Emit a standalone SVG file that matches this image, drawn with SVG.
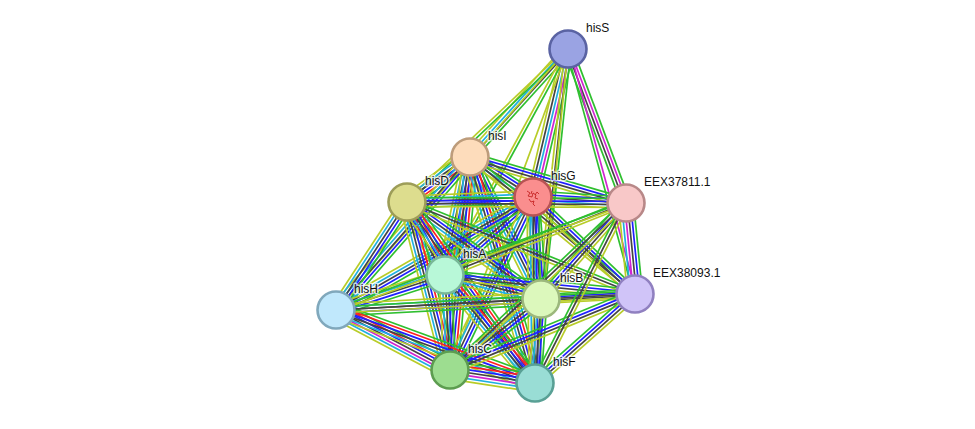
<svg xmlns="http://www.w3.org/2000/svg" width="975" height="429" viewBox="0 0 975 429">
<style>
line{stroke-width:1.7;fill:none}
.g{stroke:#2fbf2f}.r{stroke:#ff2020}.b{stroke:#2020ff}.k{stroke:#444}.m{stroke:#d024d0}.c{stroke:#20b0e0}.y{stroke:#b8cc28}
.node circle{stroke-width:2.6}
text{font-family:"Liberation Sans",Arial,sans-serif;font-size:12px;fill:#111;stroke:#fff;stroke-width:3px;stroke-opacity:0.7;paint-order:stroke;stroke-linejoin:round}
</style>
<defs>
<g id="b7"><line x1="0" x2="1" y1="-9" y2="-9" class="g"/><line x1="0" x2="1" y1="-6" y2="-6" class="r"/><line x1="0" x2="1" y1="-3" y2="-3" class="b"/><line x1="0" x2="1" y1="0" y2="0" class="k"/><line x1="0" x2="1" y1="3" y2="3" class="m"/><line x1="0" x2="1" y1="6" y2="6" class="c"/><line x1="0" x2="1" y1="9" y2="9" class="y"/></g>
<g id="b6"><line x1="0" x2="1" y1="-7.5" y2="-7.5" class="g"/><line x1="0" x2="1" y1="-4.5" y2="-4.5" class="r"/><line x1="0" x2="1" y1="-1.5" y2="-1.5" class="b"/><line x1="0" x2="1" y1="1.5" y2="1.5" class="k"/><line x1="0" x2="1" y1="4.5" y2="4.5" class="c"/><line x1="0" x2="1" y1="7.5" y2="7.5" class="y"/></g>
<g id="b5"><line x1="0" x2="1" y1="-6" y2="-6" class="g"/><line x1="0" x2="1" y1="-3" y2="-3" class="b"/><line x1="0" x2="1" y1="0" y2="0" class="k"/><line x1="0" x2="1" y1="3" y2="3" class="c"/><line x1="0" x2="1" y1="6" y2="6" class="y"/></g>
<g id="b4"><line x1="0" x2="1" y1="-4.5" y2="-4.5" class="g"/><line x1="0" x2="1" y1="-1.5" y2="-1.5" class="b"/><line x1="0" x2="1" y1="1.5" y2="1.5" class="k"/><line x1="0" x2="1" y1="4.5" y2="4.5" class="y"/></g>
<g id="s4"><line x1="0" x2="1" y1="-4.5" y2="-4.5" class="g"/><line x1="0" x2="1" y1="-1.5" y2="-1.5" class="k"/><line x1="0" x2="1" y1="1.5" y2="1.5" class="c"/><line x1="0" x2="1" y1="4.5" y2="4.5" class="y"/></g>
<g id="sg"><line x1="0" x2="1" y1="-6" y2="-6" class="g"/><line x1="0" x2="1" y1="-3" y2="-3" class="m"/><line x1="0" x2="1" y1="0" y2="0" class="c"/><line x1="0" x2="1" y1="3" y2="3" class="k"/><line x1="0" x2="1" y1="6" y2="6" class="y"/></g>
<g id="ee"><line x1="0" x2="1" y1="-7.5" y2="-7.5" class="g"/><line x1="0" x2="1" y1="-4.5" y2="-4.5" class="b"/><line x1="0" x2="1" y1="-1.5" y2="-1.5" class="k"/><line x1="0" x2="1" y1="1.5" y2="1.5" class="m"/><line x1="0" x2="1" y1="4.5" y2="4.5" class="c"/><line x1="0" x2="1" y1="7.5" y2="7.5" class="y"/></g>
<g id="e3"><line x1="0" x2="1" y1="-3" y2="-3" class="g"/><line x1="0" x2="1" y1="0" y2="0" class="k"/><line x1="0" x2="1" y1="3" y2="3" class="y"/></g>
<g id="se"><line x1="0" x2="1" y1="-4.5" y2="-4.5" class="g"/><line x1="0" x2="1" y1="-1.5" y2="-1.5" class="m"/><line x1="0" x2="1" y1="1.5" y2="1.5" class="k"/><line x1="0" x2="1" y1="4.5" y2="4.5" class="g"/></g>
<g id="se2"><line x1="0" x2="1" y1="-1.5" y2="-1.5" class="m"/><line x1="0" x2="1" y1="1.5" y2="1.5" class="g"/></g>
<g id="s2"><line x1="0" x2="1" y1="-1.5" y2="-1.5" class="g"/><line x1="0" x2="1" y1="1.5" y2="1.5" class="y"/></g>
<g id="s1"><line x1="0" x2="1" y1="0" y2="0" class="y"/></g>
</defs>
<rect width="975" height="429" fill="#fff"/>
<g id="connectors">
<use href="#s4" transform="matrix(-98 108 -0.741 -0.672 568 49)"/>
<use href="#sg" transform="matrix(-35 148 -0.973 -0.230 568 49)"/>
<use href="#se" transform="matrix(58 154 -0.936 0.352 568 49)"/>
<use href="#s2" transform="matrix(-161 153 -0.689 -0.725 568 49)"/>
<use href="#s2" transform="matrix(-123 226 -0.878 -0.478 568 49)"/>
<use href="#e3" transform="matrix(-27 250 -0.994 -0.107 568 49)"/>
<use href="#se2" transform="matrix(67 245 -0.965 0.264 568 49)"/>
<use href="#s1" transform="matrix(-232 261 -0.747 -0.664 568 49)"/>
<use href="#s1" transform="matrix(-118 321 -0.939 -0.345 568 49)"/>
<use href="#s1" transform="matrix(-33 334 -0.995 -0.098 568 49)"/>
<use href="#b5" transform="matrix(63 40 -0.536 0.844 470 157)"/>
<use href="#b6" transform="matrix(-63 45 -0.581 -0.814 470 157)"/>
<use href="#b6" transform="matrix(-25 118 -0.978 -0.207 470 157)"/>
<use href="#b5" transform="matrix(71 142 -0.894 0.447 470 157)"/>
<use href="#b5" transform="matrix(-134 153 -0.752 -0.659 470 157)"/>
<use href="#b6" transform="matrix(-20 213 -0.996 -0.094 470 157)"/>
<use href="#b6" transform="matrix(65 226 -0.961 0.276 470 157)"/>
<use href="#b4" transform="matrix(156 46 -0.283 0.959 470 157)"/>
<use href="#e3" transform="matrix(165 137 -0.639 0.769 470 157)"/>
<use href="#b5" transform="matrix(-126 5 -0.040 -0.999 533 197)"/>
<use href="#b5" transform="matrix(-88 78 -0.663 -0.748 533 197)"/>
<use href="#b5" transform="matrix(8 102 -0.997 0.078 533 197)"/>
<use href="#b5" transform="matrix(-197 113 -0.498 -0.867 533 197)"/>
<use href="#b5" transform="matrix(-83 173 -0.902 -0.433 533 197)"/>
<use href="#b5" transform="matrix(2 186 -1 0.011 533 197)"/>
<use href="#b5" transform="matrix(93 6 -0.064 0.998 533 197)"/>
<use href="#b4" transform="matrix(102 97 -0.689 0.725 533 197)"/>
<use href="#b6" transform="matrix(38 73 -0.887 0.462 407 202)"/>
<use href="#b5" transform="matrix(134 97 -0.586 0.810 407 202)"/>
<use href="#b5" transform="matrix(-71 108 -0.836 -0.550 407 202)"/>
<use href="#b6" transform="matrix(43 168 -0.969 0.248 407 202)"/>
<use href="#b6" transform="matrix(128 181 -0.816 0.577 407 202)"/>
<use href="#b4" transform="matrix(219 1 -0.005 1 407 202)"/>
<use href="#e3" transform="matrix(228 92 -0.374 0.927 407 202)"/>
<use href="#b5" transform="matrix(96 24 -0.243 0.970 445 275)"/>
<use href="#b5" transform="matrix(-109 35 -0.306 -0.952 445 275)"/>
<use href="#b5" transform="matrix(5 95 -0.999 0.053 445 275)"/>
<use href="#b6" transform="matrix(90 108 -0.768 0.640 445 275)"/>
<use href="#e3" transform="matrix(181 -72 0.370 0.929 445 275)"/>
<use href="#b4" transform="matrix(190 19 -0.0995 0.995 445 275)"/>
<use href="#b5" transform="matrix(-205 11 -0.054 -0.999 541 299)"/>
<use href="#b5" transform="matrix(-91 71 -0.615 -0.788 541 299)"/>
<use href="#b5" transform="matrix(-6 84 -0.998 -0.071 541 299)"/>
<use href="#b4" transform="matrix(85 -96 0.749 0.663 541 299)"/>
<use href="#b4" transform="matrix(94 -5 0.053 0.999 541 299)"/>
<use href="#b7" transform="matrix(114 60 -0.466 0.885 336 310)"/>
<use href="#b6" transform="matrix(199 73 -0.344 0.939 336 310)"/>
<use href="#s2" transform="matrix(290 -107 0.346 0.938 336 310)"/>
<use href="#e3" transform="matrix(299 -16 0.053 0.999 336 310)"/>
<use href="#b7" transform="matrix(85 13 -0.151 0.988 450 370)"/>
<use href="#e3" transform="matrix(176 -167 0.688 0.725 450 370)"/>
<use href="#b4" transform="matrix(185 -76 0.38 0.925 450 370)"/>
<use href="#e3" transform="matrix(91 -180 0.892 0.451 535 383)"/>
<use href="#b4" transform="matrix(100 -89 0.665 0.747 535 383)"/>
<use href="#ee" transform="matrix(9 91 -0.996 0.098 626 203)"/>
</g>
<g id="hisS" class="node"><circle cx="568" cy="49" r="18.5" fill="#9aa3e3" stroke="#5a63a3"/><text x="586" y="32">hisS</text></g>
<g id="hisI" class="node"><circle cx="470" cy="157" r="18.5" fill="#fddcbb" stroke="#bd9c7b"/><text x="488" y="140">hisI</text></g>
<g id="hisG" class="node"><circle cx="533" cy="197" r="18.5" fill="#fa8e8e" stroke="#b85454"/><path d="M527 191 l3 2 l-2 3 l4 1 l1 -4 l3 2 l-1 3 l3 1 M529 199 l2 3 l3 -1 l-1 3 l2 2 M535 195 l2 -3 l2 2 M531 194 l1 -3" fill="none" stroke="#c01818" stroke-width="0.8"/><text x="551" y="180">hisG</text></g>
<g id="EEX37811.1" class="node"><circle cx="626" cy="203" r="18.5" fill="#f8c8c8" stroke="#b88888"/><text x="644" y="186">EEX37811.1</text></g>
<g id="hisD" class="node"><circle cx="407" cy="202" r="18.5" fill="#dddd8e" stroke="#9d9d58"/><text x="425" y="185">hisD</text></g>
<g id="hisA" class="node"><circle cx="445" cy="275" r="18.5" fill="#b8f8d8" stroke="#78b898"/><text x="463" y="258">hisA</text></g>
<g id="hisB" class="node"><circle cx="541" cy="299" r="18.5" fill="#dcf8bc" stroke="#9cb87c"/><text x="560" y="282">hisB</text></g>
<g id="EEX38093.1" class="node"><circle cx="635" cy="294" r="18.5" fill="#d0c4f8" stroke="#9080c0"/><text x="653" y="277">EEX38093.1</text></g>
<g id="hisH" class="node"><circle cx="336" cy="310" r="18.5" fill="#c0e8fc" stroke="#80a8bc"/><text x="354" y="293">hisH</text></g>
<g id="hisC" class="node"><circle cx="450" cy="370" r="18.5" fill="#9ddd90" stroke="#5d9d50"/><text x="468" y="353">hisC</text></g>
<g id="hisF" class="node"><circle cx="535" cy="383" r="18.5" fill="#99ddd5" stroke="#59a095"/><text x="553" y="366">hisF</text></g>
</svg>
